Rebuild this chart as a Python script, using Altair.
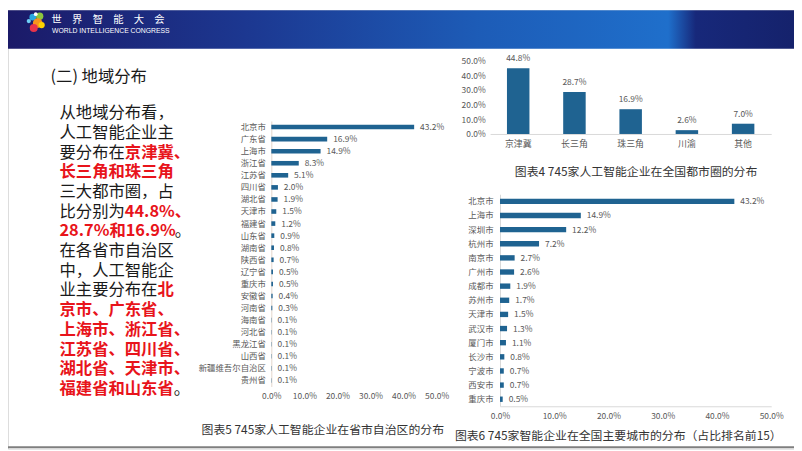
import altair as alt
import pandas as pd

# ---------------- data ----------------
region_cats = ["京津冀", "长三角", "珠三角", "川渝", "其他"]
region_vals = [44.8, 28.7, 16.9, 2.6, 7.0]

prov_cats = ["北京市", "广东省", "上海市", "浙江省", "江苏省", "四川省", "湖北省", "天津市",
             "福建省", "山东省", "湖南省", "陕西省", "辽宁省", "重庆市", "安徽省", "河南省",
             "海南省", "河北省", "黑龙江省", "山西省", "新疆维吾尔自治区", "贵州省"]
prov_vals = [43.2, 16.9, 14.9, 8.3, 5.1, 2.0, 1.9, 1.5, 1.2, 0.9, 0.8, 0.7, 0.5, 0.5,
             0.4, 0.3, 0.1, 0.1, 0.1, 0.1, 0.1, 0.1]

city_cats = ["北京市", "上海市", "深圳市", "杭州市", "南京市", "广州市", "成都市", "苏州市",
             "天津市", "武汉市", "厦门市", "长沙市", "宁波市", "西安市", "重庆市"]
city_vals = [43.2, 14.9, 12.2, 7.2, 2.7, 2.6, 1.9, 1.7, 1.5, 1.3, 1.1, 0.8, 0.7, 0.7, 0.5]

pct_ticks = [0, 10, 20, 30, 40, 50]

caption4 = "图表4  745家人工智能企业在全国都市圈的分布"
caption5 = "图表5  745家人工智能企业在省市自治区的分布"
caption6 = "图表6  745家智能企业在全国主要城市的分布（占比排名前15）"

header_cn = "世　界　智　能　大　会"
header_en = "WORLD INTELLIGENCE CONGRESS"
section_title = "(二) 地域分布"

# paragraph: each line is a list of (text, is_red, start offset in em)
para_lines = [
    [("从地域分布看，", False, 0)],
    [("人工智能企业主", False, 0)],
    [("要分布在", False, 0), ("京津冀、", True, 4)],
    [("长三角和珠三角", True, 0)],
    [("三大都市圈，占", False, 0)],
    [("比分别为", False, 0), ("44.8%、", True, 4)],
    [("28.7%和16.9%", True, 0), ("。", False, 7.05)],
    [("在各省市自治区", False, 0)],
    [("中，人工智能企", False, 0)],
    [("业主要分布在", False, 0), ("北", True, 6)],
    [("京市、广东省、", True, 0)],
    [("上海市、浙江省、", True, 0)],
    [("江苏省、四川省、", True, 0)],
    [("湖北省、天津市、", True, 0)],
    [("福建省和山东省", True, 0), ("。", False, 7)],
]

# ---------------- styling ----------------
FONT = "Noto Sans CJK SC"
BAR = "#1F6391"
LAB = "#595959"
RED = "#E8141B"
INK = "#1A1A1A"
W, H = 794, 443
OX, OY = 8, 8


def px(x):
    return x - OX


def py(y):
    return y - OY


def pct(v):
    return f"{v:.1f}%"


LBL_EXPR = "format(datum.value, '.1f') + '%'"
one = pd.DataFrame({"k": [0]})

layers = []

# ---------------- header ----------------
header = alt.Chart(one).mark_rect(
    color=alt.Gradient(
        gradient="linear", x1=0, x2=1, y1=0, y2=0,
        stops=[
            alt.GradientStop(offset=0.0, color="#1B1A68"),
            alt.GradientStop(offset=0.3, color="#1C3790"),
            alt.GradientStop(offset=0.6, color="#1D5CB7"),
            alt.GradientStop(offset=0.84, color="#1F6FCB"),
            alt.GradientStop(offset=0.875, color="#17287A"),
            alt.GradientStop(offset=1.0, color="#15226C"),
        ],
    )
).encode(x=alt.value(0), x2=alt.value(W), y=alt.value(0), y2=alt.value(py(47)))
layers.append(header)

logo = pd.DataFrame({
    "x": [px(v) for v in [33, 40, 38, 34, 42, 29, 36]],
    "y": [py(v) for v in [15, 14, 21, 26, 23, 19, 12]],
    "s": [45, 55, 95, 65, 40, 18, 14],
    "c": ["#29A8E0", "#8CC63E", "#F7941D", "#E8334A", "#FFD200", "#6FCFF6", "#FFFFFF"],
})
layers.append(alt.Chart(logo).mark_circle(opacity=1).encode(
    x=alt.X("x:Q", scale=None, axis=None), y=alt.Y("y:Q", scale=None, axis=None),
    size=alt.Size("s:Q", scale=None, legend=None), color=alt.Color("c:N", scale=None, legend=None)))

layers.append(alt.Chart(one).mark_text(
    text=header_cn, font=FONT, fontSize=10.4, color="white", align="left", baseline="middle"
).encode(x=alt.value(px(52)), y=alt.value(py(18.3))))
layers.append(alt.Chart(one).mark_text(
    text=header_en, font="Liberation Sans", fontSize=6.9, color="white", align="left", baseline="middle"
).encode(x=alt.value(px(52.5)), y=alt.value(py(28.6))))

# ---------------- left text ----------------
layers.append(alt.Chart(one).mark_text(
    text=section_title, font=FONT, fontSize=16.5, color=INK, align="left", baseline="middle"
).encode(x=alt.value(px(51)), y=alt.value(py(75))))

FS = 16.5
rows = []
for i, segs in enumerate(para_lines):
    for txt, red, off in segs:
        rows.append({"t": txt, "red": red, "x": px(60 + off * FS), "y": py(112 + 19.9 * i)})
para = pd.DataFrame(rows)
for red in (False, True):
    layers.append(alt.Chart(para[para["red"] == red]).mark_text(
        font=FONT, fontSize=FS, align="left", baseline="middle", lineHeight=FS,
        color=RED if red else INK, fontWeight="bold" if red else "normal"
    ).encode(x=alt.X("x:Q", scale=None, axis=None), y=alt.Y("y:Q", scale=None, axis=None), text="t:N"))


def axis_common(**kw):
    base = dict(title=None, grid=False, ticks=False, labelFont=FONT, labelColor=LAB,
                labelOverlap=False, labelFlush=False, labelBound=False)
    base.update(kw)
    return alt.Axis(**base)


# ---------------- chart 4: metro regions ----------------
df4 = pd.DataFrame({"cat": region_cats, "val": region_vals, "lab": [pct(v) for v in region_vals]})
x4 = alt.Scale(domain=region_cats, range=[px(495), px(779)], paddingInner=0.6, paddingOuter=0.3)
y4 = alt.Scale(domain=[0, 50], range=[py(133), py(59)], nice=False, zero=True)
layers.append(alt.Chart(df4).mark_bar(color=BAR).encode(
    x=alt.X("cat:N", scale=x4, sort=region_cats, axis=axis_common(
        orient="bottom", offset=py(133) - H, labelAngle=0, domain=True,
        domainColor="#D9D9D9", labelPadding=6, labelFontSize=9)),
    y=alt.Y("val:Q", scale=y4, axis=axis_common(
        orient="left", offset=-px(495), values=pct_ticks, labelExpr=LBL_EXPR,
        domain=False, labelPadding=5, labelFontSize=8.5)),
))
layers.append(alt.Chart(df4).mark_text(
    font=FONT, fontSize=8.5, color=LAB, baseline="bottom", dy=-5
).encode(
    x=alt.X("cat:N", scale=x4, sort=region_cats, axis=None),
    y=alt.Y("val:Q", scale=y4, axis=None), text="lab:N"))
layers.append(alt.Chart(one).mark_text(
    text=caption4, font=FONT, fontSize=12, color="#333333", align="center", baseline="middle"
).encode(x=alt.value(px(642.5)), y=alt.value(py(171))))

# ---------------- chart 5: provinces ----------------
df5 = pd.DataFrame({"cat": prov_cats, "val": prov_vals, "lab": [pct(v) for v in prov_vals]})
x5 = alt.Scale(domain=[0, 50], range=[px(274), px(441)], nice=False, zero=True)
y5 = alt.Scale(domain=prov_cats, range=[py(119.9), py(388.1)], paddingInner=0.62, paddingOuter=0.31)
layers.append(alt.Chart(df5).mark_bar(color=BAR).encode(
    x=alt.X("val:Q", scale=x5, axis=axis_common(
        orient="bottom", offset=py(390) - H, values=pct_ticks, labelExpr=LBL_EXPR,
        domain=False, labelPadding=3, labelFontSize=8.5)),
    y=alt.Y("cat:N", scale=y5, sort=prov_cats, axis=axis_common(
        orient="left", offset=-px(274), domain=True, domainColor="#E3D6CB",
        labelPadding=6, labelFontSize=8.5)),
))
layers.append(alt.Chart(df5).mark_text(
    font=FONT, fontSize=8.5, color=LAB, align="left", baseline="middle", dx=6
).encode(
    x=alt.X("val:Q", scale=x5, axis=None),
    y=alt.Y("cat:N", scale=y5, sort=prov_cats, axis=None), text="lab:N"))
layers.append(alt.Chart(one).mark_text(
    text=caption5, font=FONT, fontSize=12, color="#333333", align="center", baseline="middle"
).encode(x=alt.value(px(326)), y=alt.value(py(432))))

# ---------------- chart 6: cities ----------------
df6 = pd.DataFrame({"cat": city_cats, "val": city_vals, "lab": [pct(v) for v in city_vals]})
x6 = alt.Scale(domain=[0, 50], range=[px(505), px(779)], nice=False, zero=True)
y6 = alt.Scale(domain=city_cats, range=[py(193.9), py(408.1)], paddingInner=0.62, paddingOuter=0.31)
layers.append(alt.Chart(df6).mark_bar(color=BAR).encode(
    x=alt.X("val:Q", scale=x6, axis=axis_common(
        orient="bottom", offset=py(408.1) - H, values=pct_ticks, labelExpr=LBL_EXPR,
        domain=True, domainColor="#D9D9D9", labelPadding=5, labelFontSize=8.5)),
    y=alt.Y("cat:N", scale=y6, sort=city_cats, axis=axis_common(
        orient="left", offset=-px(505), domain=True, domainColor="#D9D9D9",
        labelPadding=7, labelFontSize=8.5)),
))
layers.append(alt.Chart(df6).mark_text(
    font=FONT, fontSize=8.5, color=LAB, align="left", baseline="middle", dx=6
).encode(
    x=alt.X("val:Q", scale=x6, axis=None),
    y=alt.Y("cat:N", scale=y6, sort=city_cats, axis=None), text="lab:N"))
layers.append(alt.Chart(one).mark_text(
    text=caption6, font=FONT, fontSize=12, color="#333333", align="center", baseline="middle"
).encode(x=alt.value(px(624.5)), y=alt.value(py(438))))

# bottom frame line
layers.append(alt.Chart(one).mark_rule(color="#7F7F7F", strokeWidth=2).encode(
    x=alt.value(0), x2=alt.value(W), y=alt.value(py(449.5))))

chart = alt.layer(*layers).resolve_scale(
    x="independent", y="independent"
).resolve_axis(
    x="independent", y="independent"
).properties(
    width=W, height=H, autosize=alt.AutoSizeParams(type="none"), padding=0
).configure_view(stroke=None).configure(background="white")

chart.save("out.html", embed_options={"renderer": "svg", "actions": False})
